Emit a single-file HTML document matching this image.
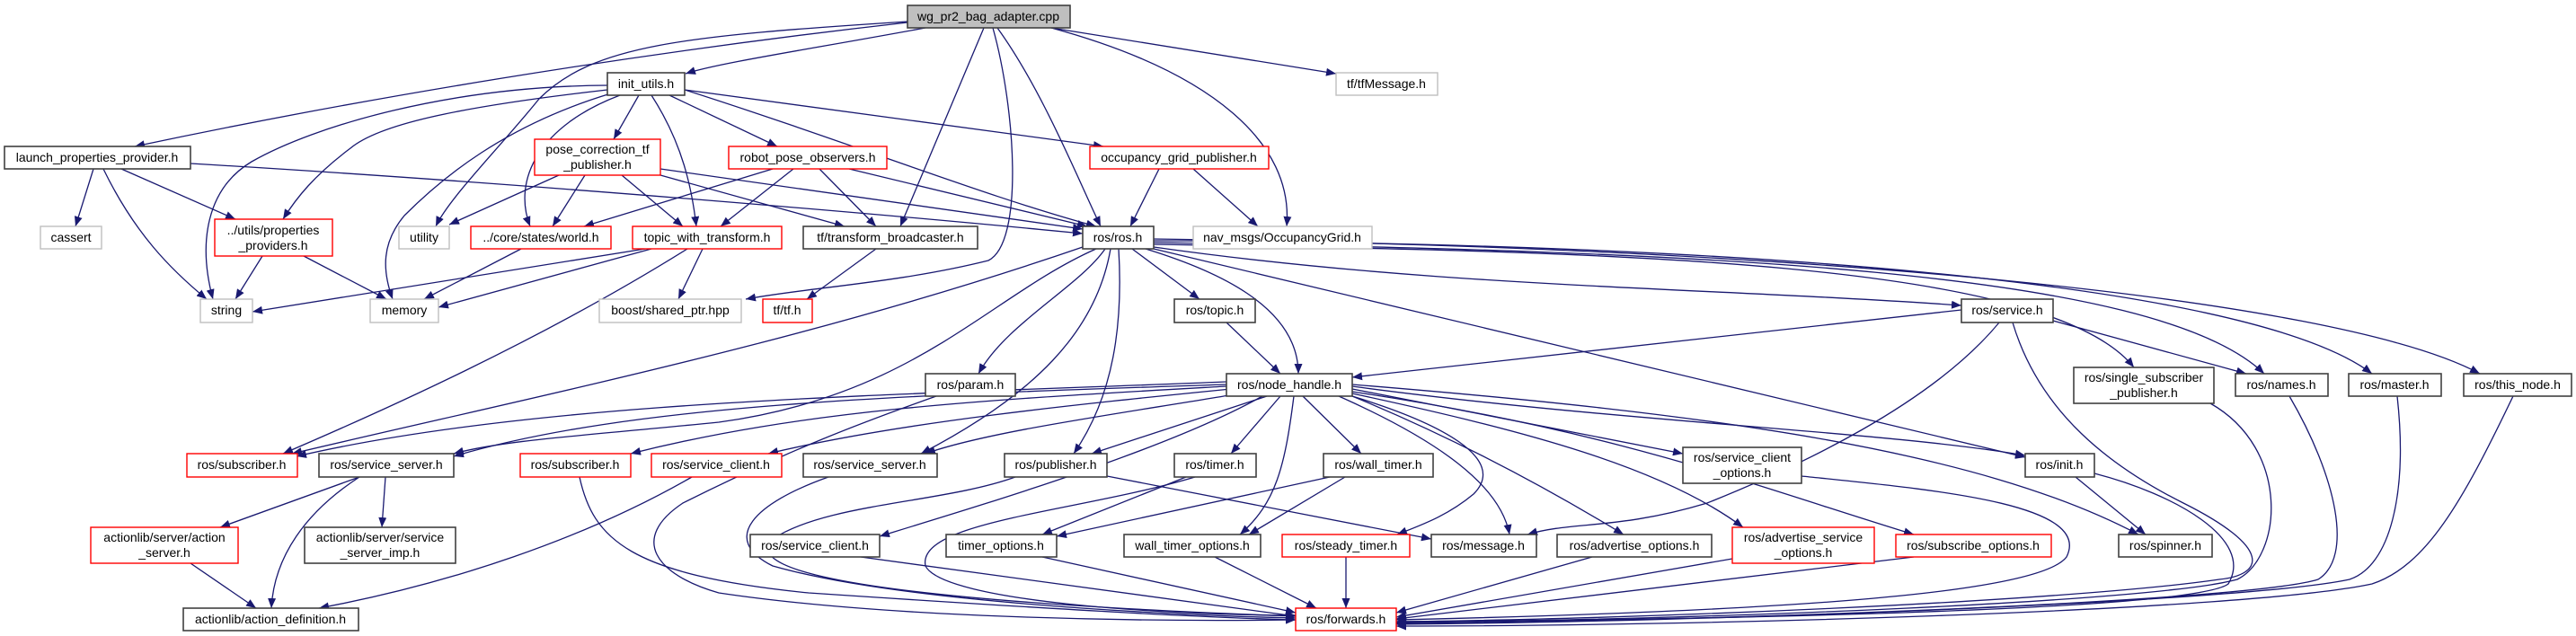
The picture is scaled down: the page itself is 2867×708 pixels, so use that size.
<!DOCTYPE html>
<html><head><meta charset="utf-8"><style>
html,body{margin:0;padding:0;background:#fff;}
svg{display:block;}
text{font-family:"Liberation Sans",sans-serif;font-size:14px;fill:#000;}
.e{fill:none;stroke:#191970;stroke-width:1.3;marker-end:url(#a);}
.k{fill:#fff;stroke:#404040;stroke-width:1.6;}
.r{fill:#fff;stroke:#ff0000;stroke-width:1.4;}
.g{fill:#fff;stroke:#bfbfbf;stroke-width:1.4;}
</style></head><body>
<svg width="2867" height="708" viewBox="0 0 2867 708" xmlns="http://www.w3.org/2000/svg">
<defs><marker id="a" markerUnits="userSpaceOnUse" markerWidth="11" markerHeight="9" refX="11" refY="4.5" orient="auto"><path d="M0,0 L11,4.5 L0,9 z" fill="#191970"/></marker></defs>
<g>
<path class="e" d="M1010,25 C700,60 400,110 150,163"/>
<path class="e" d="M1030,31 C900,55 800,70 763,82"/>
<path class="e" d="M1010,24 C760,40 660,50 600,110 C560,160 500,220 485,252"/>
<path class="e" d="M1095,31 L1002,252"/>
<path class="e" d="M1105,31 C1130,120 1140,270 1100,290 C1000,315 900,320 830,333"/>
<path class="e" d="M1110,31 C1160,100 1200,200 1225,252"/>
<path class="e" d="M1170,31 C1350,80 1440,160 1432,252"/>
<path class="e" d="M1170,31 L1487,82"/>
<path class="e" d="M676,95 C500,96 350,140 280,180 C230,210 220,270 237,333"/>
<path class="e" d="M676,100 C500,120 420,140 390,165 C350,195 330,220 315,244"/>
<path class="e" d="M680,104 C560,140 490,200 450,240 C425,270 425,300 437,333"/>
<path class="e" d="M690,106 C600,140 570,200 590,252"/>
<path class="e" d="M711,106 L683,155"/>
<path class="e" d="M725,106 C760,160 770,210 775,252"/>
<path class="e" d="M745,106 L865,163"/>
<path class="e" d="M762,100 C950,160 1100,220 1220,252"/>
<path class="e" d="M762,100 L1228,163"/>
<path class="e" d="M104,188 L84,252"/>
<path class="e" d="M115,188 C150,260 190,300 230,333"/>
<path class="e" d="M135,188 L262,244"/>
<path class="e" d="M212,182 C600,205 1000,240 1205,260"/>
<path class="e" d="M292,285 L262,333"/>
<path class="e" d="M338,285 L430,333"/>
<path class="e" d="M580,277 L472,333"/>
<path class="e" d="M622,195 L500,250"/>
<path class="e" d="M651,195 L615,252"/>
<path class="e" d="M692,195 L760,252"/>
<path class="e" d="M735,195 L940,252"/>
<path class="e" d="M735,188 L1205,255"/>
<path class="e" d="M860,188 L650,252"/>
<path class="e" d="M883,188 L802,252"/>
<path class="e" d="M912,188 L975,252"/>
<path class="e" d="M945,188 L1210,252"/>
<path class="e" d="M718,277 L281,347"/>
<path class="e" d="M725,277 L488,342"/>
<path class="e" d="M782,277 L755,333"/>
<path class="e" d="M765,277 C600,380 420,460 315,505"/>
<path class="e" d="M975,277 L898,333"/>
<path class="e" d="M1290,188 L1258,252"/>
<path class="e" d="M1328,188 L1400,252"/>
<path class="e" d="M1205,275 C900,380 600,440 325,505"/>
<path class="e" d="M1220,277 C1100,330 1020,440 800,470 C650,485 560,490 505,505"/>
<path class="e" d="M1230,277 C1200,320 1120,360 1089,416"/>
<path class="e" d="M1236,277 C1220,370 1150,440 1025,505"/>
<path class="e" d="M1245,277 C1250,360 1240,440 1195,505"/>
<path class="e" d="M1260,277 L1335,333"/>
<path class="e" d="M1275,277 C1350,300 1445,340 1445,416"/>
<path class="e" d="M1284,275 C1600,320 1900,320 2183,340"/>
<path class="e" d="M1284,272 C1800,280 2280,290 2375,409"/>
<path class="e" d="M1284,270 C1900,280 2400,300 2520,416"/>
<path class="e" d="M1284,268 C1900,270 2500,310 2640,416"/>
<path class="e" d="M1284,266 C2000,275 2600,330 2760,416"/>
<path class="e" d="M1284,277 L2254,509"/>
<path class="e" d="M1365,359 L1425,416"/>
<path class="e" d="M2183,345 L1505,420"/>
<path class="e" d="M2285,357 L2500,416"/>
<path class="e" d="M2225,359 C2150,450 2000,520 1900,560 C1800,590 1750,580 1700,595"/>
<path class="e" d="M2240,359 C2270,460 2350,520 2430,560 C2530,610 2520,640 2470,645 C2300,670 1800,690 1554,692"/>
<path class="e" d="M1042,441 C960,470 880,500 760,560 C700,600 730,640 800,660 C1000,690 1300,692 1442,690"/>
<path class="e" d="M1365,425 C1000,440 600,445 330,508"/>
<path class="e" d="M1365,428 C1000,440 700,450 505,508"/>
<path class="e" d="M1365,430 C1100,445 900,455 702,505"/>
<path class="e" d="M1370,433 C1200,450 1000,470 855,505"/>
<path class="e" d="M1380,438 C1250,460 1100,480 1030,505"/>
<path class="e" d="M1410,441 L1215,505"/>
<path class="e" d="M1425,441 L1370,505"/>
<path class="e" d="M1450,441 L1515,505"/>
<path class="e" d="M1405,441 C1300,500 1100,560 979,597"/>
<path class="e" d="M1440,441 C1430,520 1420,560 1380,595"/>
<path class="e" d="M1505,441 C1600,470 1680,510 1640,550 C1610,575 1580,585 1555,595"/>
<path class="e" d="M1490,441 C1600,490 1670,540 1680,595"/>
<path class="e" d="M1505,441 C1600,480 1700,530 1807,595"/>
<path class="e" d="M1505,438 C1700,480 1850,520 1940,587"/>
<path class="e" d="M1505,436 C1800,480 1950,540 2130,595"/>
<path class="e" d="M1505,433 L1873,505"/>
<path class="e" d="M1505,430 C1800,470 2100,480 2254,507"/>
<path class="e" d="M1505,428 C1900,460 2200,500 2380,595"/>
<path class="e" d="M400,531 L245,587"/>
<path class="e" d="M429,531 L425,587"/>
<path class="e" d="M400,531 C340,570 305,620 302,677"/>
<path class="e" d="M770,531 C650,600 500,650 355,677"/>
<path class="e" d="M645,531 C660,600 700,640 900,660 C1200,680 1350,688 1442,690"/>
<path class="e" d="M212,627 L285,677"/>
<path class="e" d="M922,531 C840,560 800,600 860,630 C1000,670 1300,685 1442,688"/>
<path class="e" d="M1232,530 L1593,600"/>
<path class="e" d="M1130,531 C1050,560 920,560 860,600 C820,640 1000,670 1442,686"/>
<path class="e" d="M1320,531 L1160,595"/>
<path class="e" d="M1330,531 C1200,570 1020,580 1030,630 C1050,670 1300,685 1442,685"/>
<path class="e" d="M1497,531 L1390,595"/>
<path class="e" d="M1480,531 L1176,597"/>
<path class="e" d="M958,620 L1442,686"/>
<path class="e" d="M1160,620 L1442,682"/>
<path class="e" d="M1352,620 L1465,677"/>
<path class="e" d="M1498,620 L1498,677"/>
<path class="e" d="M1772,620 L1554,682"/>
<path class="e" d="M1928,622 L1554,687"/>
<path class="e" d="M2130,620 L1554,689"/>
<path class="e" d="M2005,530 C2150,545 2330,560 2300,620 C2270,660 2000,680 1554,690"/>
<path class="e" d="M2310,531 L2388,595"/>
<path class="e" d="M2331,527 C2420,550 2510,600 2480,650 C2440,680 1900,690 1554,692"/>
<path class="e" d="M2460,449 C2550,500 2540,620 2490,645 C2400,670 1900,690 1554,693"/>
<path class="e" d="M2548,441 C2600,530 2620,620 2580,645 C2500,670 1900,692 1554,694"/>
<path class="e" d="M2668,441 C2680,550 2660,630 2615,645 C2500,670 1900,692 1554,695"/>
<path class="e" d="M2797,441 C2740,560 2700,630 2640,650 C2500,680 1900,697 1554,697"/>
</g>
<g text-anchor="middle">
<rect x="1010" y="6" width="181" height="25" fill="#bfbfbf" stroke="#404040" stroke-width="1.6"/><text x="1100" y="23">wg_pr2_bag_adapter.cpp</text>
<rect class="k" x="676" y="81" width="86" height="25"/><text x="719" y="98">init_utils.h</text>
<rect class="g" x="1487" y="81" width="113" height="25"/><text x="1543" y="98">tf/tfMessage.h</text>
<rect class="k" x="5" y="163" width="207" height="25"/><text x="108" y="180">launch_properties_provider.h</text>
<rect class="r" x="595" y="155" width="140" height="40"/><text x="665" y="171">pose_correction_tf</text><text x="665" y="188">_publisher.h</text>
<rect class="r" x="811" y="163" width="176" height="25"/><text x="899" y="180">robot_pose_observers.h</text>
<rect class="r" x="1213" y="163" width="199" height="25"/><text x="1312" y="180">occupancy_grid_publisher.h</text>
<rect class="g" x="45" y="252" width="68" height="25"/><text x="79" y="269">cassert</text>
<rect class="r" x="239" y="244" width="131" height="41"/><text x="304" y="261">../utils/properties</text><text x="304" y="278">_providers.h</text>
<rect class="g" x="444" y="252" width="56" height="25"/><text x="472" y="269">utility</text>
<rect class="r" x="524" y="252" width="156" height="25"/><text x="602" y="269">../core/states/world.h</text>
<rect class="r" x="704" y="252" width="166" height="25"/><text x="787" y="269">topic_with_transform.h</text>
<rect class="k" x="894" y="252" width="194" height="25"/><text x="991" y="269">tf/transform_broadcaster.h</text>
<rect class="k" x="1205" y="252" width="79" height="25"/><text x="1244" y="269">ros/ros.h</text>
<rect class="g" x="1328" y="252" width="199" height="25"/><text x="1427" y="269">nav_msgs/OccupancyGrid.h</text>
<rect class="g" x="223" y="333" width="58" height="26"/><text x="252" y="350">string</text>
<rect class="g" x="412" y="333" width="76" height="26"/><text x="450" y="350">memory</text>
<rect class="g" x="667" y="333" width="158" height="26"/><text x="746" y="350">boost/shared_ptr.hpp</text>
<rect class="r" x="849" y="333" width="55" height="26"/><text x="876" y="350">tf/tf.h</text>
<rect class="k" x="1307" y="333" width="90" height="26"/><text x="1352" y="350">ros/topic.h</text>
<rect class="k" x="2183" y="333" width="102" height="26"/><text x="2234" y="350">ros/service.h</text>
<rect class="k" x="1030" y="416" width="100" height="25"/><text x="1080" y="433">ros/param.h</text>
<rect class="k" x="1365" y="416" width="140" height="25"/><text x="1435" y="433">ros/node_handle.h</text>
<rect class="k" x="2308" y="409" width="156" height="40"/><text x="2386" y="425">ros/single_subscriber</text><text x="2386" y="442">_publisher.h</text>
<rect class="k" x="2488" y="416" width="103" height="25"/><text x="2539" y="433">ros/names.h</text>
<rect class="k" x="2614" y="416" width="103" height="25"/><text x="2665" y="433">ros/master.h</text>
<rect class="k" x="2742" y="416" width="120" height="25"/><text x="2802" y="433">ros/this_node.h</text>
<rect class="r" x="208" y="505" width="123" height="26"/><text x="269" y="522">ros/subscriber.h</text>
<rect class="k" x="355" y="505" width="150" height="26"/><text x="430" y="522">ros/service_server.h</text>
<rect class="r" x="579" y="505" width="123" height="26"/><text x="640" y="522">ros/subscriber.h</text>
<rect class="r" x="725" y="505" width="145" height="26"/><text x="797" y="522">ros/service_client.h</text>
<rect class="k" x="894" y="505" width="149" height="26"/><text x="968" y="522">ros/service_server.h</text>
<rect class="k" x="1118" y="505" width="114" height="26"/><text x="1175" y="522">ros/publisher.h</text>
<rect class="k" x="1307" y="505" width="91" height="26"/><text x="1352" y="522">ros/timer.h</text>
<rect class="k" x="1473" y="505" width="122" height="26"/><text x="1534" y="522">ros/wall_timer.h</text>
<rect class="k" x="1873" y="498" width="132" height="40"/><text x="1939" y="514">ros/service_client</text><text x="1939" y="531">_options.h</text>
<rect class="k" x="2254" y="505" width="77" height="26"/><text x="2292" y="522">ros/init.h</text>
<rect class="r" x="101" y="587" width="164" height="40"/><text x="183" y="603">actionlib/server/action</text><text x="183" y="620">_server.h</text>
<rect class="k" x="339" y="587" width="168" height="40"/><text x="423" y="603">actionlib/server/service</text><text x="423" y="620">_server_imp.h</text>
<rect class="k" x="835" y="595" width="144" height="25"/><text x="907" y="612">ros/service_client.h</text>
<rect class="k" x="1053" y="595" width="123" height="25"/><text x="1114" y="612">timer_options.h</text>
<rect class="k" x="1251" y="595" width="152" height="25"/><text x="1327" y="612">wall_timer_options.h</text>
<rect class="r" x="1427" y="595" width="142" height="25"/><text x="1498" y="612">ros/steady_timer.h</text>
<rect class="k" x="1593" y="595" width="117" height="25"/><text x="1651" y="612">ros/message.h</text>
<rect class="k" x="1733" y="595" width="172" height="25"/><text x="1819" y="612">ros/advertise_options.h</text>
<rect class="r" x="1928" y="587" width="158" height="40"/><text x="2007" y="603">ros/advertise_service</text><text x="2007" y="620">_options.h</text>
<rect class="r" x="2110" y="595" width="173" height="25"/><text x="2196" y="612">ros/subscribe_options.h</text>
<rect class="k" x="2358" y="595" width="104" height="25"/><text x="2410" y="612">ros/spinner.h</text>
<rect class="k" x="204" y="677" width="195" height="25"/><text x="301" y="694">actionlib/action_definition.h</text>
<rect class="r" x="1442" y="677" width="112" height="25"/><text x="1498" y="694">ros/forwards.h</text>
</g>
</svg>
</body></html>
